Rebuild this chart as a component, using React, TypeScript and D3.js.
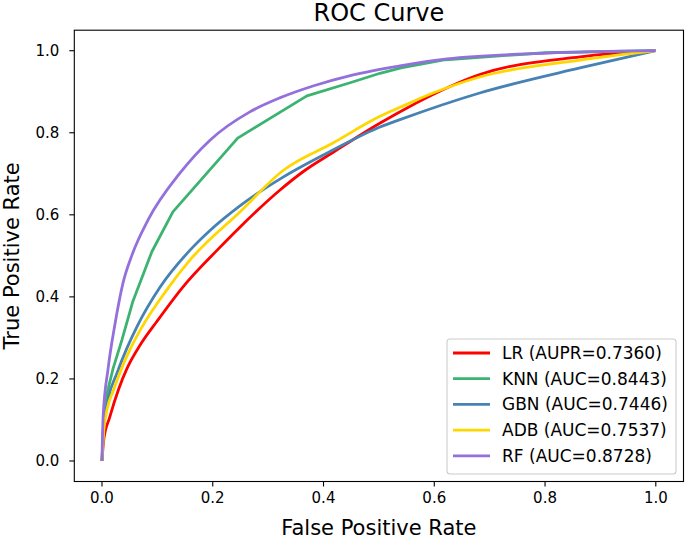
import React from "react";
import * as d3 from "d3";

const lrFpr = [0, 0.003, 0.014, 0.03, 0.045, 0.07, 0.099, 0.146, 0.208, 0.249, 0.321, 0.363, 0.417, 0.5, 0.55, 0.682, 0.863, 1];
const lrTpr = [0, 0.05, 0.107, 0.175, 0.225, 0.285, 0.34, 0.424, 0.514, 0.57, 0.66, 0.705, 0.752, 0.822, 0.86, 0.942, 0.985, 1];

const knnFpr = [0, 0.003, 0.01, 0.02, 0.036, 0.056, 0.09, 0.128, 0.245, 0.37, 0.448, 0.502, 0.54, 0.62, 0.8, 1];
const knnTpr = [0, 0.1, 0.17, 0.225, 0.295, 0.39, 0.51, 0.607, 0.787, 0.89, 0.922, 0.945, 0.958, 0.978, 0.995, 1];

const gbnFpr = [0, 0.003, 0.011, 0.027, 0.045, 0.063, 0.105, 0.159, 0.195, 0.249, 0.327, 0.417, 0.502, 0.538, 0.682, 0.863, 1];
const gbnTpr = [0, 0.08, 0.15, 0.214, 0.275, 0.327, 0.424, 0.514, 0.562, 0.622, 0.692, 0.758, 0.814, 0.832, 0.897, 0.958, 1];

const adbFpr = [0, 0.003, 0.01, 0.02, 0.032, 0.05, 0.069, 0.117, 0.159, 0.249, 0.327, 0.417, 0.502, 0.538, 0.6, 0.682, 0.863, 1];
const adbTpr = [0, 0.07, 0.13, 0.17, 0.214, 0.27, 0.319, 0.417, 0.49, 0.607, 0.708, 0.775, 0.84, 0.862, 0.898, 0.936, 0.977, 1];

const rfFpr = [0, 0.002, 0.011, 0.023, 0.038, 0.055, 0.083, 0.141, 0.195, 0.267, 0.321, 0.381, 0.45, 0.538, 0.623, 0.803, 1];
const rfTpr = [0, 0.107, 0.225, 0.33, 0.434, 0.505, 0.587, 0.702, 0.782, 0.851, 0.885, 0.914, 0.94, 0.963, 0.98, 0.994, 1];

const seriesNames = ["LR (AUPR=0.7360)", "KNN (AUC=0.8443)", "GBN (AUC=0.7446)", "ADB (AUC=0.7537)", "RF (AUC=0.8728)"];
const seriesColors = ["#ff0000", "#3cb371", "#4682b4", "#ffd700", "#9370db"];
const xTicks = [0, 0.2, 0.4, 0.6, 0.8, 1.0];
const yTicks = [0, 0.2, 0.4, 0.6, 0.8, 1.0];

const W = 685;
const H = 539;
const L = 74.3, R = 683.5, T = 30.2, B = 481.5;
const FONT = "'DejaVu Sans', sans-serif";

export default function App() {
  const x = d3.scaleLinear().domain([-0.05, 1.05]).range([L, R]);
  const y = d3.scaleLinear().domain([-0.05, 1.05]).range([B, T]);
  const series = [
    { f: lrFpr, t: lrTpr, curve: d3.curveMonotoneX },
    { f: knnFpr, t: knnTpr, curve: d3.curveLinear },
    { f: gbnFpr, t: gbnTpr, curve: d3.curveMonotoneX },
    { f: adbFpr, t: adbTpr, curve: d3.curveMonotoneX },
    { f: rfFpr, t: rfTpr, curve: d3.curveMonotoneX },
  ];
  const lgX = 447, lgY = 339, lgW = 229, lgH = 135;
  return (
    <svg width={W} height={H} style={{ position: "absolute", left: 0, top: 0, background: "#fff" }}>
      <rect x={0} y={0} width={W} height={H} fill="#fff" />
      <defs>
        <clipPath id="plotclip">
          <rect x={L} y={T} width={R - L} height={B - T} />
        </clipPath>
      </defs>
      <g clipPath="url(#plotclip)">
        {series.map((s, i) => {
          const pts = s.f.map((v, j) => [v, s.t[j]] as [number, number]);
          const line = d3.line<[number, number]>().x((d) => x(d[0])).y((d) => y(d[1])).curve(s.curve);
          return (
            <path key={i} d={line(pts) || ""} fill="none" stroke={seriesColors[i]} strokeWidth={2.8} strokeLinejoin="round" strokeLinecap="butt" />
          );
        })}
      </g>
      <rect x={L} y={T} width={R - L} height={B - T} fill="none" stroke="#000" strokeWidth={1.1} />
      {xTicks.map((t) => (
        <g key={"x" + t}>
          <line x1={x(t)} x2={x(t)} y1={B} y2={B + 5} stroke="#000" strokeWidth={1.1} />
          <text x={x(t)} y={503} fontSize={15} fontFamily={FONT} textAnchor="middle" fill="#000">
            {t.toFixed(1)}
          </text>
        </g>
      ))}
      {yTicks.map((t) => (
        <g key={"y" + t}>
          <line x1={L - 5} x2={L} y1={y(t)} y2={y(t)} stroke="#000" strokeWidth={1.1} />
          <text x={L - 15} y={y(t) + 5.5} fontSize={15} fontFamily={FONT} textAnchor="end" fill="#000">
            {t.toFixed(1)}
          </text>
        </g>
      ))}
      <text x={(L + R) / 2} y={21} fontSize={24} fontFamily={FONT} textAnchor="middle" fill="#000">
        ROC Curve
      </text>
      <text x={(L + R) / 2} y={535} fontSize={21} fontFamily={FONT} textAnchor="middle" fill="#000">
        False Positive Rate
      </text>
      <text transform={`translate(${19},${(T + B) / 2}) rotate(-90)`} fontSize={21} fontFamily={FONT} textAnchor="middle" fill="#000">
        True Positive Rate
      </text>
      <rect x={lgX} y={lgY} width={lgW} height={lgH} rx={3} fill="#fff" fillOpacity={0.8} stroke="#cccccc" strokeWidth={1.1} />
      {seriesNames.map((n, i) => {
        const cy = 353 + i * 25.7;
        return (
          <g key={n}>
            <line x1={453} x2={490} y1={cy} y2={cy} stroke={seriesColors[i]} strokeWidth={2.8} />
            <text x={502} y={cy + 6} fontSize={17} fontFamily={FONT} fill="#000">
              {n}
            </text>
          </g>
        );
      })}
    </svg>
  );
}
